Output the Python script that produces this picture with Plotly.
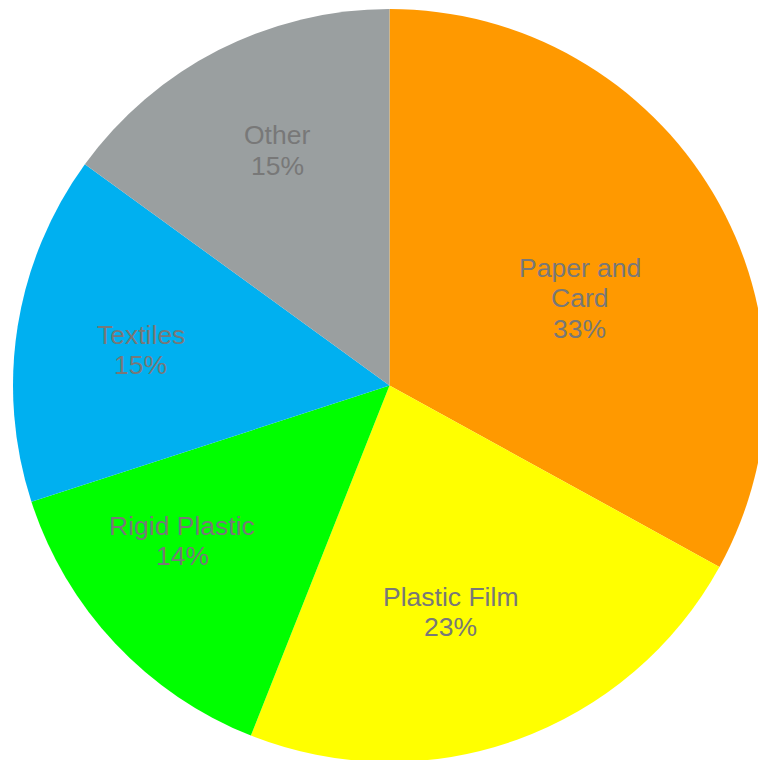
import math
import plotly.graph_objects as go

# Composition of the waste stream (percent)
categories = ["Paper and Card", "Plastic Film", "Rigid Plastic", "Textiles", "Other"]
shares = [33, 23, 14, 15, 15]
slice_colors = ["#FF9900", "#FFFF00", "#00FF00", "#00B0F0", "#9A9FA0"]

# Label lines shown inside each slice
label_lines = [["Paper and", "Card"], ["Plastic Film"], ["Rigid Plastic"], ["Textiles"], ["Other"]]

# Label placement: angular nudge (deg) from slice middle, radius fraction
label_nudge = [6.0, 4.6, 6.3, -0.9, 1.5]
label_radius = [0.556, 0.623, 0.688, 0.668, 0.692]

W, H = 780, 780
M_L, M_T, SIDE = 13, 9, 753

fig = go.Figure(
    go.Pie(
        labels=categories,
        values=shares,
        sort=False,
        direction="clockwise",
        rotation=0,
        marker=dict(colors=slice_colors, line=dict(width=0)),
        textinfo="none",
        hoverinfo="label+percent",
        showlegend=False,
    )
)

total = sum(shares)
annotations = []
cum = 0.0
line_gap = 30.5
for name, val, lines, nudge, rf in zip(categories, shares, label_lines, label_nudge, label_radius):
    mid = (cum + val / 2) / total * 360.0
    cum += val
    ang = math.radians(mid + nudge)
    x = 0.5 + 0.5 * rf * math.sin(ang)
    y = 0.5 + 0.5 * rf * math.cos(ang)
    rows = lines + [f"{round(val / total * 100)}%"]
    n = len(rows)
    for i, row in enumerate(rows):
        annotations.append(
            dict(
                x=x, y=y, xref="paper", yref="paper",
                text=row, showarrow=False,
                xanchor="center", yanchor="middle",
                yshift=((n - 1) / 2 - i) * line_gap,
                font=dict(family="Liberation Sans, Arial, sans-serif", size=26.5, color="#787878"),
            )
        )

fig.update_layout(
    width=W,
    height=H,
    margin=dict(l=M_L, t=M_T, r=W - M_L - SIDE, b=H - M_T - SIDE, pad=0),
    paper_bgcolor="white",
    plot_bgcolor="white",
    annotations=annotations,
)

fig.write_html(
    "out.html",
    post_script="document.body.style.margin='0';document.body.style.overflow='hidden';",
)
